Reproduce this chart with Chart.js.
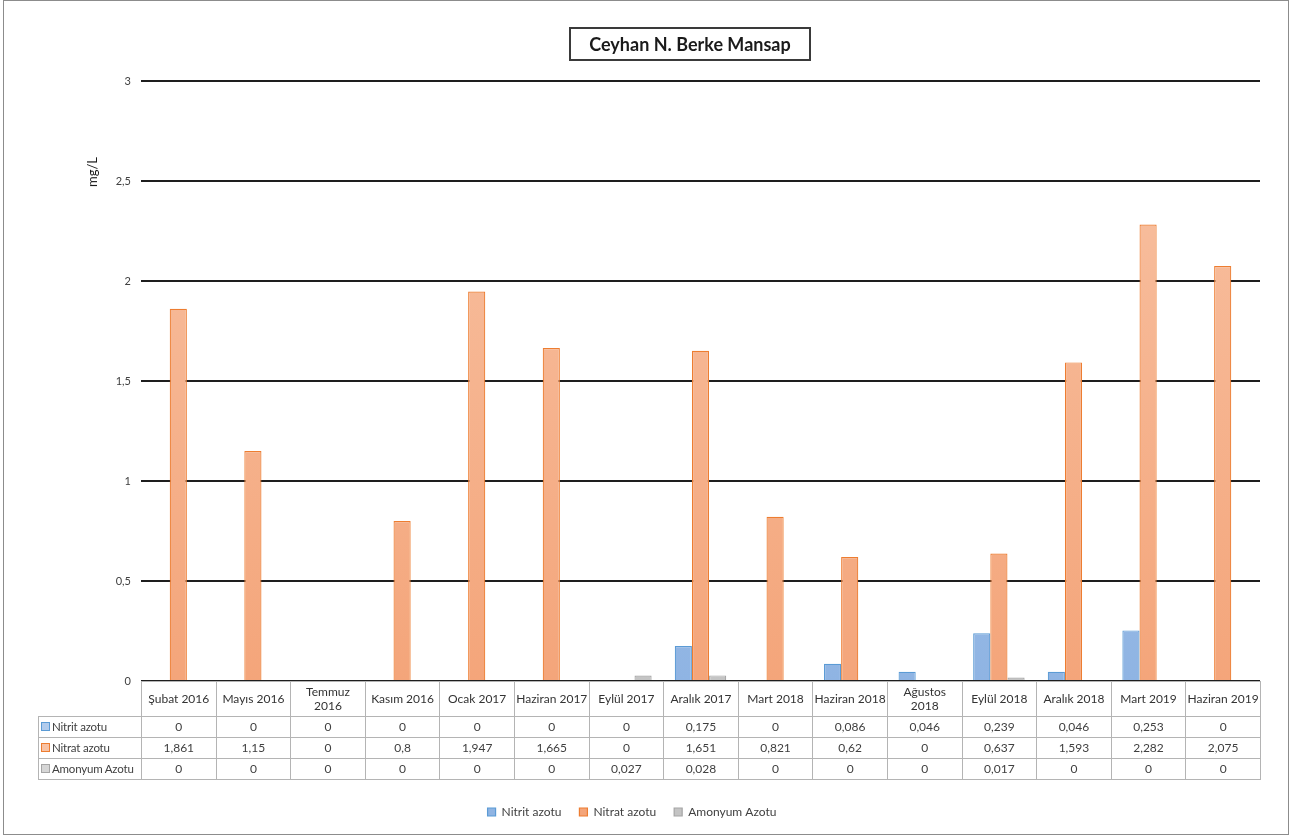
<!DOCTYPE html>
<html>
<head>
<meta charset="utf-8">
<script src="https://cdn.jsdelivr.net/npm/chart.js@4/dist/chart.umd.min.js"></script>
<style>
    body { margin: 0; background: #fff; font-family: Lato, "Open Sans", sans-serif; }
    #frame { position: absolute; left: 3px; top: 0; width: 1284px; height: 833px; border: 1px solid #8c8c8c; }
    #chart { position: absolute; left: 0; top: 0; }
    #title {
        position: absolute; left: 565px; top: 26px; width: 238px; height: 30px;
        border: 2px solid #3a3a3a; font-weight: bold; font-size: 18px; color: #1a1a1a;
        text-align: center; line-height: 30px;
    }
    #ytitle {
        position: absolute; left: 88px; top: 171px; font-size: 13px; color: #1a1a1a;
        transform: translate(-50%, -50%) rotate(-90deg);
    }
    #datatable { position: absolute; border-collapse: collapse; table-layout: fixed; font-size: 12px; color: #404040; }
    #datatable td { border: 1px solid #b4b4b4; text-align: center; padding: 0; white-space: pre; line-height: 14px; overflow: hidden; }
    #datatable tr.head td { height: 34px; color: #333; }
    #datatable tr.row td { height: 20px; }
    #datatable td.lbl { text-align: left; padding-left: 2px; font-size: 11.5px; letter-spacing: -0.2px; }
    #datatable td.corner { border-top: none; border-left: none; }
    .key { display: inline-block; width: 7px; height: 7px; margin-right: 2px; border: 1px solid; vertical-align: 0px; }
</style>
</head>
<body>
<div id="frame">
    <canvas id="chart" width="1284" height="833"></canvas>
    <div id="title">Ceyhan N. Berke Mansap</div>
    <div id="ytitle">mg/L</div>
</div>
<script>
const categories = [
    "Şubat 2016", "Mayıs 2016", "Temmuz\n2016", "Kasım 2016", "Ocak 2017",
    "Haziran 2017", "Eylül 2017", "Aralık 2017", "Mart 2018", "Haziran 2018",
    "Ağustos\n2018", "Eylül 2018", "Aralık 2018", "Mart 2019", "Haziran 2019"
];
const nitrit = [0, 0, 0, 0, 0, 0, 0, 0.175, 0, 0.086, 0.046, 0.239, 0.046, 0.253, 0];
const nitrat = [1.861, 1.15, 0, 0.8, 1.947, 1.665, 0, 1.651, 0.821, 0.62, 0, 0.637, 1.593, 2.282, 2.075];
const amonyum = [0, 0, 0, 0, 0, 0, 0.027, 0.028, 0, 0, 0, 0.017, 0, 0, 0];
const yTicks = [0, 0.5, 1, 1.5, 2, 2.5, 3];

const seriesNames = ["Nitrit azotu", "Nitrat azotu", "Amonyum Azotu"];
const seriesBorders = ["#5b9bd5", "#ed7d31", "#a5a5a5"];
const seriesTop = ["#b1cbec", "#f8c3a5", "#d6d6d6"];
const seriesBottom = ["#8fb4e3", "#f4a57a", "#c4c4c4"];

const fmt = v => String(v).replace(".", ",");

const ctx = document.getElementById("chart").getContext("2d");

// vertical gradient following the chart area
function barFill(i) {
    return function (context) {
        const area = context.chart.chartArea;
        if (!area) return seriesBottom[i];
        const g = context.chart.ctx.createLinearGradient(0, area.top, 0, area.bottom);
        g.addColorStop(0, seriesTop[i]);
        g.addColorStop(1, seriesBottom[i]);
        return g;
    };
}

const chart = new Chart(ctx, {
    type: "bar",
    data: {
        labels: categories,
        datasets: [nitrit, nitrat, amonyum].map((d, i) => ({
            label: seriesNames[i],
            data: d,
            backgroundColor: barFill(i),
            borderColor: seriesBorders[i],
            borderWidth: 1.2,
            barPercentage: 1,
            categoryPercentage: 0.69
        }))
    },
    options: {
        responsive: false,
        animation: false,
        layout: { padding: { top: 80, right: 28, bottom: 6, left: 0 } },
        plugins: {
            legend: {
                position: "bottom",
                labels: {
                    boxWidth: 8,
                    boxHeight: 8,
                    padding: 18,
                    color: "#404040",
                    font: { family: "Lato", size: 12 }
                }
            },
            tooltip: { enabled: false }
        },
        scales: {
            x: {
                grid: { display: false },
                border: { display: false },
                ticks: { display: false },
                afterFit: function (scale) { scale.height = 107; }
            },
            y: {
                min: 0,
                max: 3,
                afterBuildTicks: function (scale) { scale.ticks = yTicks.map(v => ({ value: v })); },
                afterFit: function (scale) { scale.width = 137; },
                grid: { color: "#1e1e1e", lineWidth: 2, drawTicks: false },
                border: { display: false },
                ticks: {
                    padding: 10,
                    color: "#404040",
                    font: { family: "Lato", size: 11 },
                    callback: v => fmt(v)
                }
            }
        }
    }
});

// data table under the plot, aligned with the x scale
(function buildTable() {
    const area = chart.chartArea;
    const colW = (area.right - area.left) / categories.length;
    const lblW = 103;
    const table = document.createElement("table");
    table.id = "datatable";
    table.style.left = (area.left - lblW) + "px";
    table.style.top = area.bottom + "px";
    table.style.width = (lblW + colW * categories.length) + "px";

    const cg = document.createElement("colgroup");
    let html = '<col style="width:' + lblW + 'px">';
    categories.forEach(() => { html += '<col style="width:' + colW + 'px">'; });
    cg.innerHTML = html;
    table.appendChild(cg);

    const head = document.createElement("tr");
    head.className = "head";
    let h = '<td class="corner"></td>';
    categories.forEach(c => { h += "<td>" + c + "</td>"; });
    head.innerHTML = h;
    table.appendChild(head);

    [nitrit, nitrat, amonyum].forEach((d, i) => {
        const tr = document.createElement("tr");
        tr.className = "row";
        let r = '<td class="lbl"><span class="key" style="background:' + seriesTop[i] +
            ';border-color:' + seriesBorders[i] + '"></span>' + seriesNames[i] + "</td>";
        d.forEach(v => { r += "<td>" + fmt(v) + "</td>"; });
        tr.innerHTML = r;
        table.appendChild(tr);
    });
    document.getElementById("frame").appendChild(table);
})();
</script>
</body>
</html>
